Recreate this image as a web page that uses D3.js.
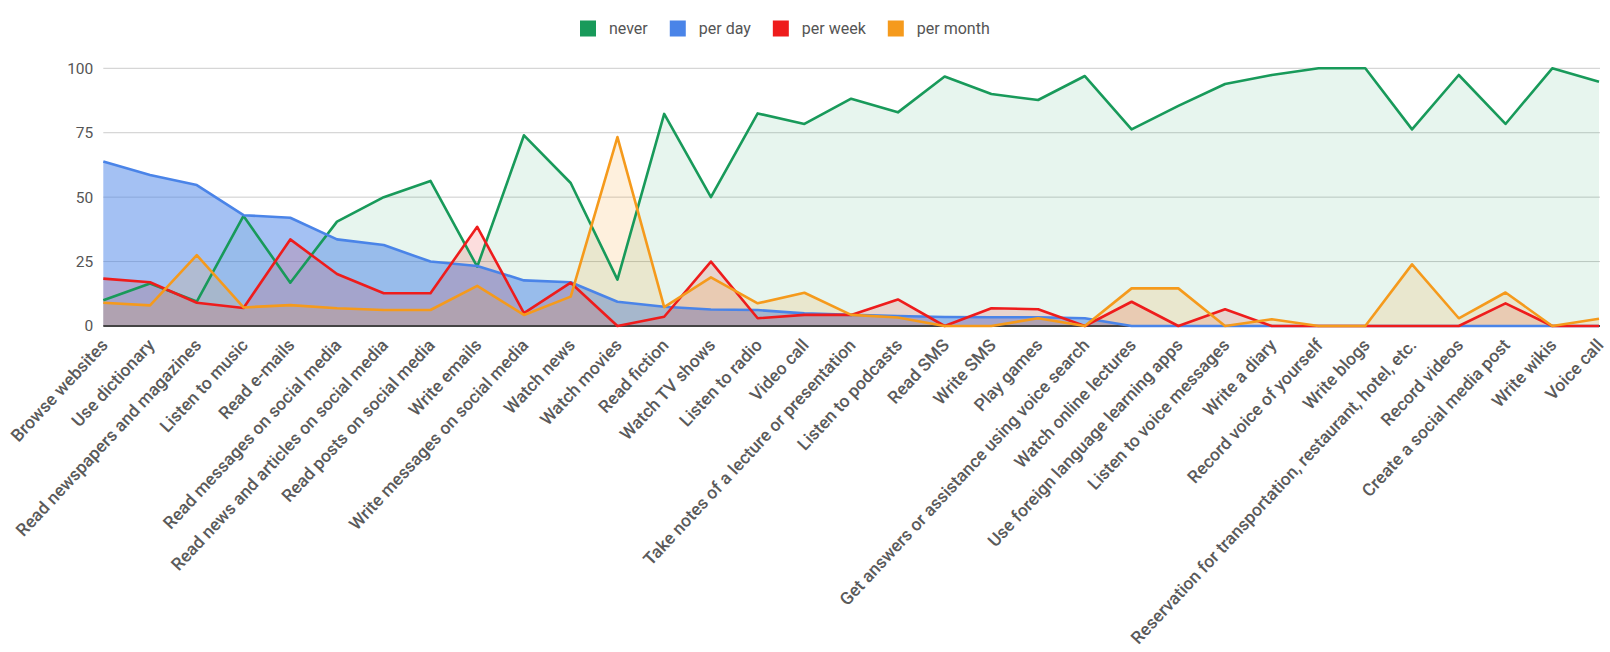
<!DOCTYPE html>
<html>
<head>
<meta charset="utf-8">
<script src="https://cdn.jsdelivr.net/npm/d3@7/dist/d3.min.js"></script>
<style>
  html, body { margin: 0; padding: 0; background: #fff; }
  svg { display: block; font-family: Roboto, "Noto Sans", Arial, sans-serif; }
</style>
</head>
<body>
<svg id="chart" width="1610" height="652"></svg>
<script>
// Activity categories along the x axis
const categories = [
  "Browse websites", "Use dictionary", "Read newspapers and magazines", "Listen to music",
  "Read e-mails", "Read messages on social media", "Read news and articles on social media",
  "Read posts on social media", "Write emails", "Write messages on social media", "Watch news",
  "Watch movies", "Read fiction", "Watch TV shows", "Listen to radio", "Video call",
  "Take notes of a lecture or presentation", "Listen to podcasts", "Read SMS", "Write SMS",
  "Play games", "Get answers or assistance using voice search", "Watch online lectures",
  "Use foreign language learning apps", "Listen to voice messages", "Write a diary",
  "Record voice of yourself", "Write blogs", "Reservation for transportation, restaurant, hotel, etc.",
  "Record videos", "Create a social media post", "Write wikis", "Voice call"
];

// Share of respondents (%) per frequency
const never = [10, 16.5, 9.5, 42.7, 16.8, 40.5, 50, 56.3, 23, 74, 55.5, 18, 82.3, 50, 82.5, 78.4,
  88.2, 82.9, 96.8, 90, 87.7, 97, 76.3, 85.4, 93.9, 97.4, 100, 100, 76.3, 97.4, 78.4, 100, 94.8];
const perDay = [63.8, 58.6, 54.7, 43, 42, 33.6, 31.4, 25, 23.3, 17.7, 17, 9.4, 7.5, 6.4, 6.2, 4.9,
  4.3, 3.9, 3.5, 3.4, 3.4, 3, 0, 0, 0, 0, 0, 0, 0, 0, 0, 0, 0];
const perWeek = [18.4, 17, 9, 7, 33.6, 20.2, 12.7, 12.7, 38.5, 5, 16.8, 0, 3.6, 25, 3, 4.3,
  4.3, 10.3, 0, 6.9, 6.5, 0, 9.4, 0, 6.5, 0, 0, 0, 0, 0, 8.8, 0, 0];
const perMonth = [9, 8, 27.5, 7.2, 8.1, 6.9, 6.2, 6.2, 15.6, 4.3, 11.4, 73.3, 7.3, 18.9, 8.8, 12.9,
  4.3, 3.3, 0, 0, 3, 0, 14.6, 14.6, 0, 2.6, 0, 0, 23.9, 3, 13, 0, 2.8];

const yTicks = [0, 25, 50, 75, 100];

const series = [
  { name: "never",     values: never,    color: "#189a5a", fillOpacity: 0.1 },
  { name: "per day",   values: perDay,   color: "#4a84e8", fillOpacity: 0.5 },
  { name: "per week",  values: perWeek,  color: "#ee1c1c", fillOpacity: 0.15 },
  { name: "per month", values: perMonth, color: "#f59a1c", fillOpacity: 0.15 }
];

const svg = d3.select("#chart");
const margin = { left: 103.3, right: 11, top: 68.3, bottom: 326 };

const x = d3.scalePoint().domain(categories).range([margin.left, 1610 - margin.right]);
const y = d3.scaleLinear().domain([0, 100]).range([margin.bottom, margin.top]);

// Horizontal gridlines
svg.append("g")
  .selectAll("line")
  .data(yTicks.filter(t => t !== 0))
  .join("line")
  .attr("x1", margin.left).attr("x2", 1610 - margin.right + 1)
  .attr("y1", d => y(d)).attr("y2", d => y(d))
  .attr("stroke", "#cccccc").attr("stroke-width", 1);

// Y axis labels
const yAxis = d3.axisLeft(y).tickValues(yTicks).tickSize(0).tickPadding(10);
svg.append("g")
  .attr("transform", `translate(${margin.left},0)`)
  .call(yAxis)
  .call(g => g.select(".domain").remove())
  .call(g => g.selectAll("text")
    .attr("font-family", "Roboto, sans-serif")
    .attr("font-size", 15.5)
    .attr("fill", "#555"));

// Areas then lines
const area = d3.area()
  .x((d, i) => x(categories[i]))
  .y0(y(0))
  .y1(d => y(d));
const line = d3.line()
  .x((d, i) => x(categories[i]))
  .y(d => y(d));

const areas = svg.append("g");
series.forEach(s => {
  areas.append("path")
    .attr("d", area(s.values))
    .attr("fill", s.color)
    .attr("fill-opacity", s.fillOpacity);
});

// Baseline at zero
svg.append("line")
  .attr("x1", margin.left).attr("x2", 1610 - margin.right + 1)
  .attr("y1", y(0)).attr("y2", y(0))
  .attr("stroke", "#444").attr("stroke-width", 2);

const lines = svg.append("g");
series.forEach(s => {
  lines.append("path")
    .attr("d", line(s.values))
    .attr("fill", "none")
    .attr("stroke", s.color)
    .attr("stroke-width", 2.6)
    .attr("stroke-linejoin", "round");
});

// Slanted category labels
const xAxis = d3.axisBottom(x).tickSize(0).tickPadding(0);
svg.append("g")
  .attr("transform", `translate(0,${y(0)})`)
  .call(xAxis)
  .call(g => g.select(".domain").remove())
  .call(g => g.selectAll("text")
    .attr("font-family", "Roboto, sans-serif")
    .attr("font-size", 17.5)
    .attr("font-weight", 500)
    .attr("fill", "#5a5a5a")
    .attr("text-anchor", "end")
    .attr("dy", null)
    .attr("y", null)
    .attr("transform", "translate(5,20) rotate(-47)"));

// Legend
const legend = svg.append("g").attr("transform", "translate(580,20.5)");
let lx = 0;
series.forEach(s => {
  const item = legend.append("g").attr("transform", `translate(${lx},0)`);
  item.append("rect").attr("width", 16).attr("height", 16).attr("fill", s.color);
  const t = item.append("text")
    .attr("x", 29).attr("y", 13)
    .attr("font-family", "Roboto, sans-serif")
    .attr("font-size", 16)
    .attr("fill", "#555")
    .text(s.name);
  lx += 29 + t.node().getComputedTextLength() + 22;
});
</script>
</body>
</html>
